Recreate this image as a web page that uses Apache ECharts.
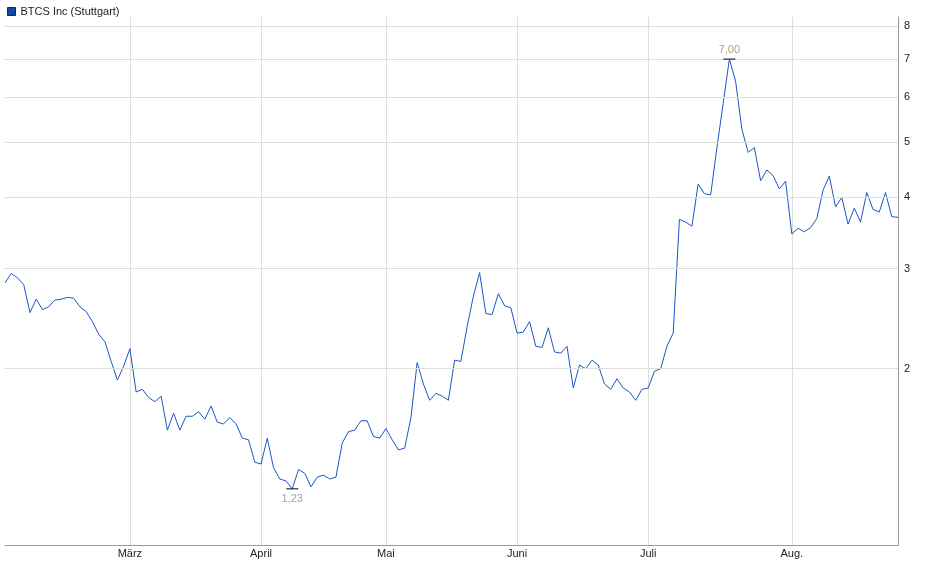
<!DOCTYPE html>
<html><head><meta charset="utf-8">
<script src="https://cdn.jsdelivr.net/npm/echarts@6/dist/echarts.min.js"></script>
<style>html,body{margin:0;padding:0;background:#fff}#c{width:940px;height:579px}</style>
</head><body><div id="c"></div>
<script>
const seriesName = 'BTCS Inc (Stuttgart)';
const prices = [
2.83,2.94,2.89,2.81,2.51,2.65,2.54,2.57,2.64,2.65,2.67,2.66,2.57,2.52,2.42,2.30,2.23,2.06,1.91,2.02,
2.17,1.82,1.84,1.78,1.75,1.79,1.56,1.67,1.56,1.65,1.65,1.68,1.63,1.72,1.61,1.60,1.64,1.60,1.51,1.50,
1.37,1.36,1.51,1.34,1.28,1.27,1.23,1.33,
1.31,1.24,1.29,1.30,1.28,1.29,1.48,1.55,1.56,1.62,1.62,1.52,1.51,1.57,1.50,1.44,1.45,1.64,2.05,1.88,
1.76,1.81,1.79,1.76,2.07,2.06,2.37,2.68,2.95,2.50,2.49,2.71,2.58,2.56,2.31,2.32,2.42,2.19,2.18,2.36,
2.14,2.13,2.19,1.85,2.03,2.00,2.07,2.03,1.88,1.84,
1.92,1.85,1.82,1.76,1.84,1.85,1.98,2.00,2.19,2.31,3.66,3.62,3.56,4.22,4.06,4.04,4.89,5.85,7.00,6.40,
5.27,4.80,4.89,4.28,4.47,4.37,4.14,4.27,3.45,3.53,3.48,3.54,3.67,4.12,4.36,3.85,4.00,3.59,3.83,3.62,
4.08,3.81,3.77,4.08,3.70,3.69];
const monthNames = ['März','April','Mai','Juni','Juli','Aug.'];
const monthIdx = [20,41,61,82,103,126];
const yTicks = [2,3,4,5,6,7,8];
const maxLabel = '7,00', minLabel = '1,23';

const categories = prices.map((_, i) => { const k = monthIdx.indexOf(i); return k >= 0 ? monthNames[k] : ''; });
const maxI = prices.indexOf(Math.max(...prices)), minI = prices.indexOf(Math.min(...prices));

const chart = echarts.init(document.getElementById('c'));
chart.setOption({
  animation: false,
  legend: { left: 2, top: 1, itemWidth: 8, itemHeight: 8, icon: 'rect', itemGap: 4,
    textStyle: { fontSize: 11, color: '#222', fontFamily: 'Arial, Liberation Sans' },
    data: [{ name: seriesName, itemStyle: { color: '#1747a6', borderColor: '#0a2a6a', borderWidth: 1 } }] },
  grid: { left: 5, right: 42, top: 17, bottom: 34 },
  xAxis: { type: 'category', data: categories, boundaryGap: false,
    axisLine: { lineStyle: { color: '#999' } }, axisTick: { show: false },
    axisLabel: { interval: 0, color: '#222', fontSize: 11, fontFamily: 'Arial, Liberation Sans', margin: 3 },
    splitLine: { show: true, interval: (i) => monthIdx.includes(i), lineStyle: { color: '#ddd' } } },
  yAxis: { type: 'log', logBase: 10, min: 0.98, max: 8.3, position: 'right',
    axisLine: { show: true, lineStyle: { color: '#999' } }, axisTick: { show: false },
    axisLabel: { show: false }, splitLine: { show: false } },
  series: [{
    name: seriesName, type: 'line', data: prices, symbol: 'none',
    lineStyle: { color: '#1a56c4', width: 1 }, itemStyle: { color: '#1747a6' },
    markLine: { silent: true, symbol: 'none', animation: false,
      lineStyle: { color: '#ddd', type: 'solid', width: 1 },
      label: { position: 'end', color: '#222', fontSize: 11, fontFamily: 'Arial, Liberation Sans', distance: 6, formatter: p => String(p.value) },
      data: yTicks.map(v => ({ yAxis: v })) },
    markPoint: { symbol: 'rect', symbolSize: [12, 1], itemStyle: { color: '#000' },
      data: [
        { coord: [maxI, prices[maxI]], label: { formatter: maxLabel, position: 'top', distance: 3, color: '#b8a07e', fontSize: 11 } },
        { coord: [minI, prices[minI]], label: { formatter: minLabel, position: 'bottom', distance: 4, color: '#9aa3b0', fontSize: 11 } }
      ] }
  }]
});
</script></body></html>
